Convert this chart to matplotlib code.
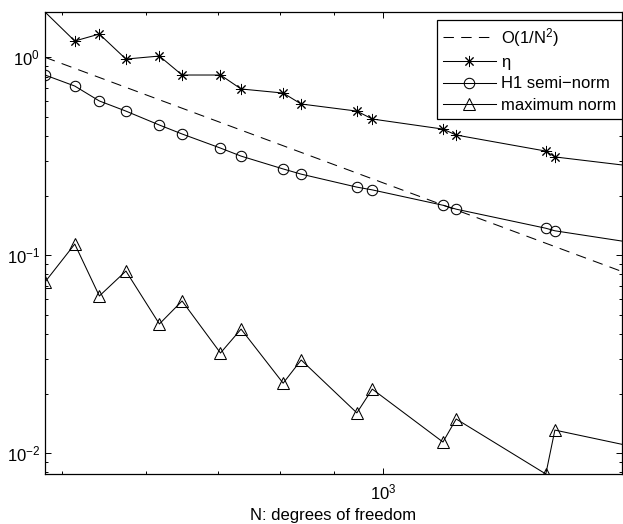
import matplotlib
matplotlib.use("Agg")
import matplotlib.pyplot as plt
from matplotlib.ticker import LogLocator, NullFormatter, LogFormatterSciNotation

plt.rcParams['font.family'] = ['Liberation Sans', 'DejaVu Sans']
plt.rcParams['mathtext.fontset'] = 'custom'
plt.rcParams['mathtext.rm'] = 'Liberation Sans'
plt.rcParams['mathtext.it'] = 'Liberation Sans:italic'
plt.rcParams['mathtext.bf'] = 'Liberation Sans:bold'

# degrees of freedom
N = [482, 514, 542, 574, 617, 648, 704, 736, 806, 838, 945, 977,
     1138, 1171, 1421, 1449, 1675]
eta = [1.694, 1.209, 1.311, 0.980, 1.015, 0.814, 0.814, 0.692, 0.660, 0.581,
       0.535, 0.488, 0.434, 0.405, 0.336, 0.314, 0.286]
h1 = [0.814, 0.716, 0.602, 0.535, 0.455, 0.410, 0.348, 0.317, 0.273, 0.257,
      0.221, 0.214, 0.179, 0.171, 0.137, 0.133, 0.118]
maxnorm = [0.0733, 0.114, 0.0623, 0.0833, 0.0450, 0.0588, 0.0321, 0.0424,
           0.0226, 0.0296, 0.0160, 0.0211, 0.0114, 0.0149, 0.00786, 0.0131, 0.0111]
# reference slope O(1/N^2)
ref_N = [482, 1675]
ref_val = [1.0, 1.0 * (482 / 1675) ** 2]

labels = ['O(1/N$^2$)', 'η', 'H1 semi−norm', 'maximum norm']

W, H = 623, 524
fig = plt.figure(figsize=(W / 100, H / 100), dpi=100)
ax = fig.add_axes([45 / W, (H - 474) / H, 577 / W, 462 / H])

lw = 0.75
ax.plot(ref_N, ref_val, color='black', lw=lw, linestyle=(0, (10, 7)), label=labels[0])
ax.plot(N, eta, color='black', lw=lw, marker=(8, 2, 0), markersize=8,
        markeredgewidth=0.7, markevery=list(range(1, len(N) - 1)), label=labels[1])
ax.plot(N, h1, color='black', lw=lw, marker='o', markersize=7.5, markerfacecolor='none',
        markeredgewidth=0.75, markevery=list(range(0, len(N) - 1)), label=labels[2])
ax.plot(N, maxnorm, color='black', lw=lw, marker='^', markersize=8.5, markerfacecolor='none',
        markeredgewidth=0.75, markevery=list(range(0, len(N) - 1)), label=labels[3])

ax.set_xscale('log')
ax.set_yscale('log')
ax.set_xlim(min(N), max(N))
ax.set_ylim(min(maxnorm), max(eta))

ax.xaxis.set_major_locator(LogLocator(base=10, numticks=10))
ax.xaxis.set_minor_locator(LogLocator(base=10, subs=range(2, 10), numticks=10))
ax.xaxis.set_major_formatter(LogFormatterSciNotation())
ax.xaxis.set_minor_formatter(NullFormatter())
ax.yaxis.set_minor_formatter(NullFormatter())

ax.tick_params(which='both', direction='in', top=True, right=True, labelsize=12)
ax.tick_params(axis='x', which='major', pad=6)
ax.tick_params(which='major', length=4.5, width=0.7)
ax.tick_params(which='minor', length=2.5, width=0.7)
for s in ax.spines.values():
    s.set_linewidth(0.9)

ax.set_xlabel('N: degrees of freedom', fontsize=12, labelpad=4)

leg = ax.legend(loc='upper right', bbox_to_anchor=(1.0, 1 - 8 / 462), fancybox=False,
                edgecolor='black', framealpha=1, fontsize=12, handlelength=3.2,
                handletextpad=0.3, borderpad=0.35, labelspacing=0.38, borderaxespad=0)
leg.get_frame().set_linewidth(0.9)

fig.savefig('out.png', dpi=100)
